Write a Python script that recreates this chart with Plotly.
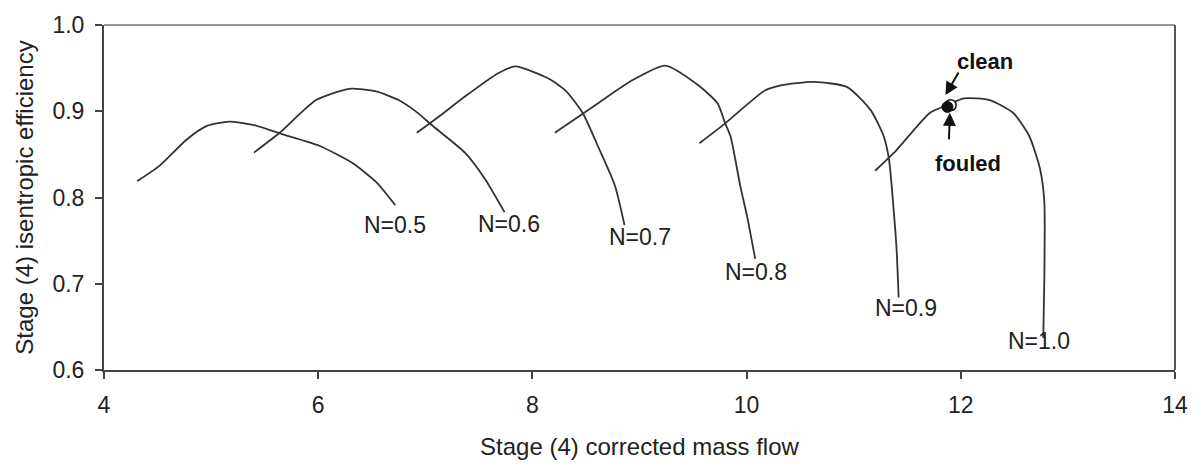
import plotly.graph_objects as go

# ---- data ----
speed_labels = ["N=0.5", "N=0.6", "N=0.7", "N=0.8", "N=0.9", "N=1.0"]

n05_x = [4.31, 4.52, 4.77, 4.96, 5.17, 5.40, 5.70, 6.01, 6.32, 6.54, 6.72]
n05_y = [0.819, 0.837, 0.867, 0.883, 0.888, 0.884, 0.872, 0.860, 0.840, 0.818, 0.791]

n06_x = [5.40, 5.64, 5.98, 6.29, 6.54, 6.75, 6.92, 7.06, 7.37, 7.56, 7.74]
n06_y = [0.852, 0.875, 0.913, 0.926, 0.923, 0.913, 0.899, 0.884, 0.852, 0.821, 0.783]

n07_x = [6.92, 7.15, 7.37, 7.68, 7.84, 8.15, 8.31, 8.47, 8.61, 8.77, 8.86]
n07_y = [0.875, 0.896, 0.917, 0.944, 0.952, 0.938, 0.924, 0.898, 0.860, 0.814, 0.768]

n08_x = [8.21, 8.61, 8.92, 9.24, 9.54, 9.73, 9.80, 9.85, 9.94, 10.01, 10.08]
n08_y = [0.875, 0.909, 0.935, 0.953, 0.931, 0.909, 0.886, 0.871, 0.814, 0.775, 0.729]

n09_x = [9.56, 9.80, 10.17, 10.32, 10.63, 10.94, 11.16, 11.28, 11.33, 11.38, 11.40, 11.42]
n09_y = [0.863, 0.886, 0.924, 0.930, 0.934, 0.928, 0.901, 0.871, 0.844, 0.775, 0.741, 0.684]

n10_x = [11.20, 11.40, 11.71, 11.87, 12.03, 12.27, 12.49, 12.64, 12.74, 12.78, 12.78, 12.77]
n10_y = [0.831, 0.855, 0.898, 0.907, 0.915, 0.913, 0.898, 0.871, 0.833, 0.795, 0.706, 0.637]

# label anchor positions (data coords) for the speed lines
label_x = [6.72, 7.78, 9.00, 10.09, 11.49, 12.73]
label_y = [0.768, 0.769, 0.754, 0.714, 0.672, 0.634]

# operating point (clean / fouled)
clean_x, clean_y = [11.905], [0.907]
fouled_x, fouled_y = [11.875], [0.905]

x_ticks = [4, 6, 8, 10, 12, 14]
y_ticks = [0.6, 0.7, 0.8, 0.9, 1.0]

curves = [(n05_x, n05_y), (n06_x, n06_y), (n07_x, n07_y),
          (n08_x, n08_y), (n09_x, n09_y), (n10_x, n10_y)]

FONT = "Liberation Sans, Arial, sans-serif"
LINE = "#333333"

fig = go.Figure()
for (xs, ys), name in zip(curves, speed_labels):
    fig.add_trace(go.Scatter(x=xs, y=ys, mode="lines", name=name,
                             line=dict(color=LINE, width=1.8, shape="spline", smoothing=0.6),
                             showlegend=False, hoverinfo="skip"))

fig.add_trace(go.Scatter(x=clean_x, y=clean_y, mode="markers", name="clean",
                         marker=dict(symbol="circle", size=11, color="white",
                                     line=dict(color="#111", width=1.5)),
                         showlegend=False))
fig.add_trace(go.Scatter(x=fouled_x, y=fouled_y, mode="markers", name="fouled",
                         marker=dict(symbol="circle", size=11, color="#111",
                                     line=dict(color="#111", width=1)),
                         showlegend=False))

annotations = []
for lx, ly, txt in zip(label_x, label_y, speed_labels):
    annotations.append(dict(x=lx, y=ly, text=txt, showarrow=False,
                            font=dict(family=FONT, size=23, color="#222"),
                            xanchor="center", yanchor="middle"))

# clean / fouled labels and arrows
px_per_x = 107.5
px_per_y = 873.0
annotations.append(dict(x=12.23, y=0.958, text="<b>clean</b>", showarrow=False,
                        font=dict(family=FONT, size=22, color="#111"),
                        xanchor="center", yanchor="middle"))
annotations.append(dict(x=12.07, y=0.840, text="<b>fouled</b>", showarrow=False,
                        font=dict(family=FONT, size=22, color="#111"),
                        xanchor="center", yanchor="middle"))
annotations.append(dict(x=fouled_x[0] - 2 / px_per_x, y=fouled_y[0] + 12 / px_per_y,
                        text="", showarrow=True, arrowhead=2, arrowsize=1.3, arrowwidth=2,
                        arrowcolor="#111", ax=14, ay=-24, standoff=0))
annotations.append(dict(x=fouled_x[0] + 2.5 / px_per_x, y=fouled_y[0] - 6 / px_per_y,
                        text="", showarrow=True, arrowhead=2, arrowsize=1.3, arrowwidth=2,
                        arrowcolor="#111", ax=-1, ay=28, standoff=0))

fig.update_layout(
    width=1200, height=472,
    margin=dict(l=104, r=20, t=21, b=102),
    paper_bgcolor="white", plot_bgcolor="white",
    font=dict(family=FONT, color="#222"),
    annotations=annotations,
    shapes=[
        dict(type="line", xref="paper", yref="paper", x0=0, x1=1, y0=1, y1=1,
             line=dict(color="#999999", width=2)),
        dict(type="line", xref="paper", yref="paper", x0=1, x1=1, y0=0, y1=1,
             line=dict(color="#555555", width=2)),
    ],
)
fig.update_xaxes(range=[4, 14], tickvals=x_ticks, ticktext=[str(t) for t in x_ticks],
                 showgrid=False, zeroline=False, showline=True, linecolor="#444", linewidth=2,
                 ticks="outside", ticklen=7, tickwidth=2, tickcolor="#444",
                 ticklabelstandoff=6,
                 tickfont=dict(family=FONT, size=23, color="#222"),
                 title=dict(text="Stage (4) corrected mass flow",
                            font=dict(family=FONT, size=24, color="#222"), standoff=22))
fig.update_yaxes(range=[0.6, 1.0], tickvals=y_ticks, ticktext=[f"{t:.1f}" for t in y_ticks],
                 showgrid=False, zeroline=False, showline=True, linecolor="#444", linewidth=2,
                 ticks="outside", ticklen=7, tickwidth=2, tickcolor="#444",
                 ticklabelstandoff=6,
                 tickfont=dict(family=FONT, size=23, color="#222"),
                 title=dict(text="Stage (4) isentropic efficiency",
                            font=dict(family=FONT, size=24, color="#222"), standoff=12))

fig.write_html("out.html")
